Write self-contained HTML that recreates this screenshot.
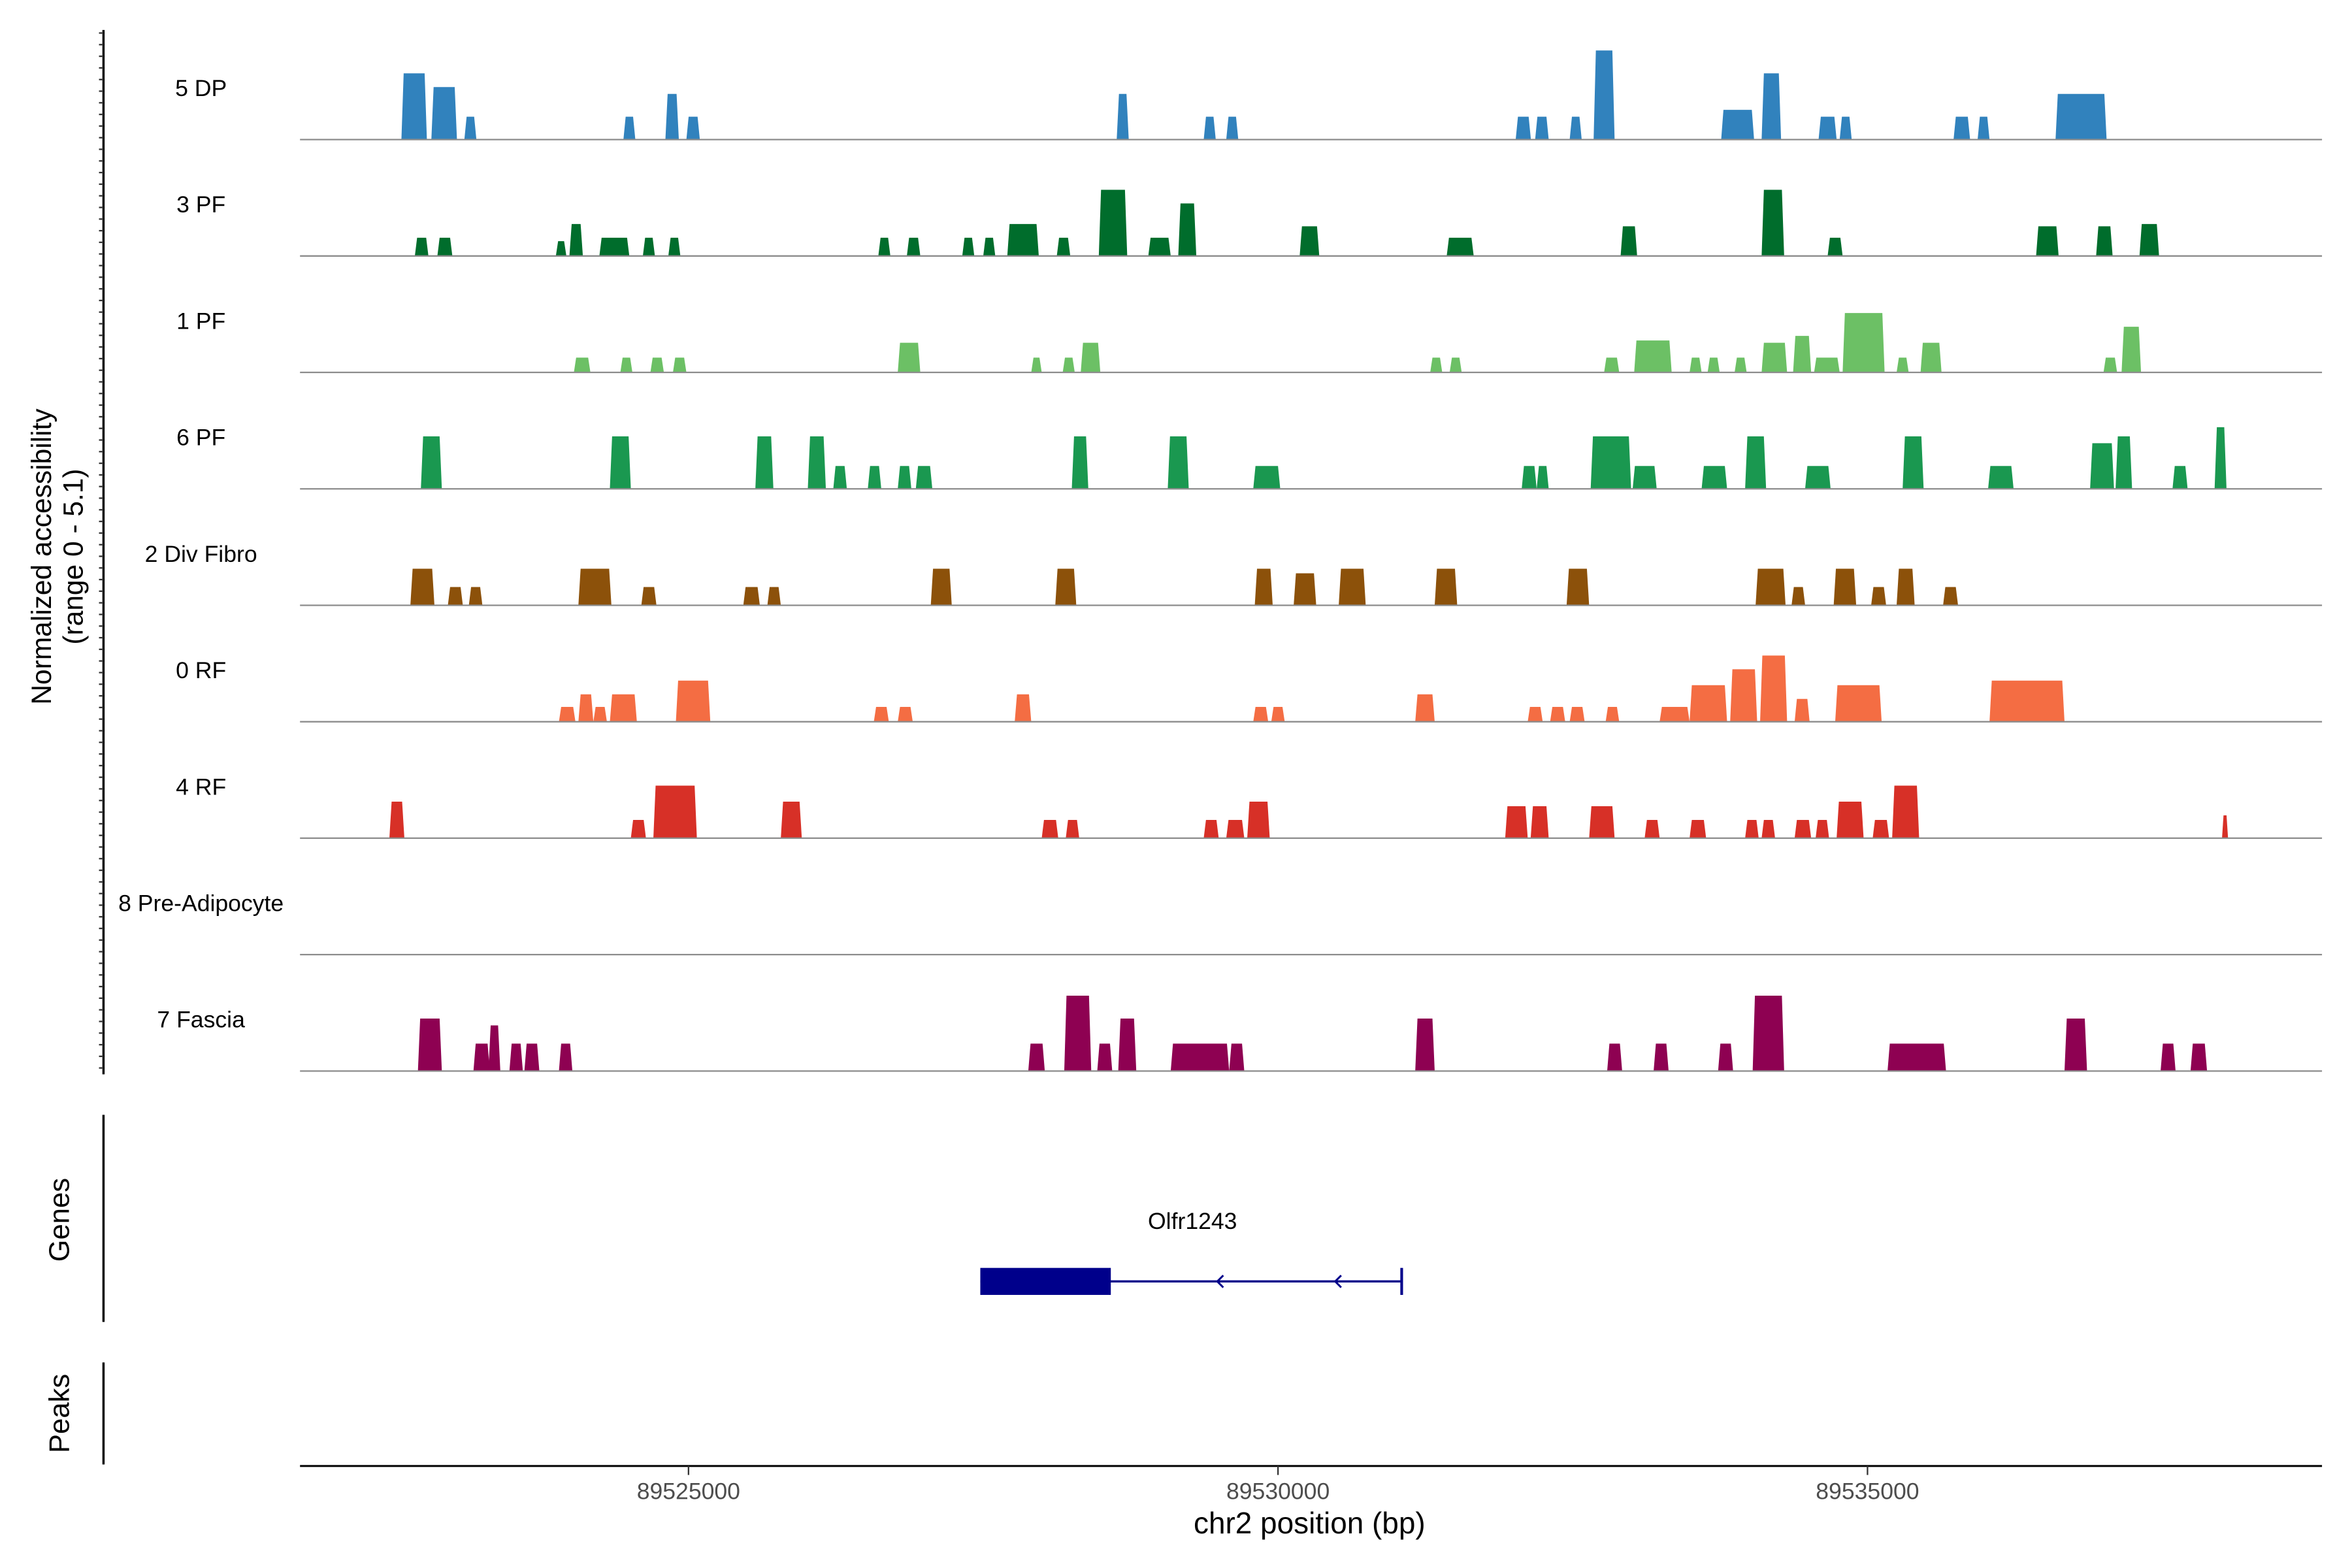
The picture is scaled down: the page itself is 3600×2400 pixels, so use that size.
<!DOCTYPE html>
<html><head><meta charset="utf-8"><style>
html,body{margin:0;padding:0;background:#fff;}
svg{display:block;font-family:"Liberation Sans",Arial,sans-serif;}
</style></head><body>
<svg id="chart" width="3600" height="2400" viewBox="0 0 1568 1045" preserveAspectRatio="none" xmlns="http://www.w3.org/2000/svg">
<rect x="0" y="0" width="1568" height="1045" fill="#fff"/>
<g id="tracks"></g>
<g id="yaxis"></g>
<text transform="translate(34,371) rotate(-90)" text-anchor="middle" font-size="18.5">Normalized accessibility</text>
<text transform="translate(55,371) rotate(-90)" text-anchor="middle" font-size="18.5">(range 0 - 5.1)</text>
<line x1="69" y1="743" x2="69" y2="881" stroke="#000" stroke-width="1.5"/>
<text transform="translate(46,813) rotate(-90)" text-anchor="middle" font-size="19">Genes</text>
<g id="gene"></g>
<line x1="69" y1="908" x2="69" y2="976" stroke="#000" stroke-width="1.5"/>
<text transform="translate(46,942) rotate(-90)" text-anchor="middle" font-size="19">Peaks</text>
<line x1="200" y1="977" x2="1548" y2="977" stroke="#000" stroke-width="1.3"/>
<g id="xaxis"></g>
<text x="873" y="1022" text-anchor="middle" font-size="20">chr2 position (bp)</text>
</svg>
<script>
const trackNames = ["5 DP","3 PF","1 PF","6 PF","2 Div Fibro","0 RF","4 RF","8 Pre-Adipocyte","7 Fascia"];
const trackColors = ["#3182bd","#006d2c","#6cc065","#1a9850","#8c510a","#f46d43","#d73027","#a50f15","#8e0152"];
const xTicks = [89525000,89530000,89535000];
const yMax = 5.1;
const peaksDP5 = [[89522565,89522781,2.9],[89522819,89523036,2.3],[89523099,89523201,1.0],[89524448,89524549,1.0],[89524804,89524918,2.0],[89524982,89525096,1.0],[89528632,89528734,2.0],[89529370,89529472,1.0],[89529561,89529663,1.0],[89532016,89532145,1.0],[89532181,89532296,1.0],[89532474,89532576,1.0],[89532677,89532855,3.9],[89533759,89534038,1.3],[89534102,89534267,2.9],[89534585,89534738,1.0],[89534764,89534866,1.0],[89535730,89535870,1.0],[89535934,89536035,1.0],[89536595,89537028,2.0]];
const peaksPF3 = [[89522679,89522794,0.8],[89522870,89522997,0.8],[89523875,89523964,0.65],[89523990,89524104,1.4],[89524244,89524498,0.8],[89524613,89524715,0.8],[89524829,89524931,0.8],[89526610,89526712,0.8],[89526852,89526966,0.8],[89527322,89527424,0.8],[89527500,89527602,0.8],[89527704,89527971,1.4],[89528124,89528238,0.8],[89528480,89528721,2.9],[89528900,89529090,0.8],[89529154,89529307,2.3],[89530184,89530350,1.3],[89531431,89531660,0.8],[89532906,89533046,1.3],[89534102,89534293,2.9],[89534662,89534789,0.8],[89536430,89536621,1.3],[89536939,89537079,1.3],[89537307,89537473,1.4]];
const peaksPF1 = [[89524028,89524168,0.65],[89524422,89524524,0.65],[89524677,89524791,0.65],[89524868,89524982,0.65],[89526775,89526966,1.3],[89527907,89527996,0.65],[89528174,89528276,0.65],[89528327,89528493,1.3],[89531291,89531393,0.65],[89531456,89531558,0.65],[89532766,89532894,0.65],[89533021,89533339,1.4],[89533491,89533593,0.65],[89533644,89533746,0.65],[89533873,89533975,0.65],[89534102,89534318,1.3],[89534369,89534522,1.6],[89534547,89534764,0.65],[89534789,89535145,2.6],[89535247,89535349,0.65],[89535450,89535628,1.3],[89537002,89537117,0.65],[89537155,89537320,2.0]];
const peaksPF6 = [[89522730,89522908,2.3],[89524333,89524511,2.3],[89525567,89525720,2.3],[89526012,89526165,2.3],[89526228,89526343,1.0],[89526521,89526635,1.0],[89526775,89526890,1.0],[89526928,89527068,1.0],[89528251,89528391,2.3],[89529065,89529243,2.3],[89529790,89530019,1.0],[89532067,89532194,1.0],[89532194,89532296,1.0],[89532652,89532995,2.3],[89533008,89533212,1.0],[89533593,89533809,1.0],[89533962,89534140,2.3],[89534471,89534687,1.0],[89535298,89535476,2.3],[89536023,89536239,1.0],[89536888,89537091,2.0],[89537104,89537244,2.3],[89537587,89537715,1.0],[89537944,89538045,2.7]];
const peaksDiv2 = [[89522641,89522845,1.6],[89522959,89523086,0.8],[89523137,89523252,0.8],[89524066,89524346,1.6],[89524600,89524728,0.8],[89525465,89525605,0.8],[89525669,89525783,0.8],[89527055,89527233,1.6],[89528111,89528289,1.6],[89529803,89529955,1.6],[89530133,89530324,1.4],[89530515,89530744,1.6],[89531329,89531520,1.6],[89532448,89532639,1.6],[89534051,89534305,1.6],[89534356,89534471,0.8],[89534713,89534904,1.6],[89535031,89535158,0.8],[89535247,89535400,1.6],[89535641,89535768,0.8]];
const peaksRF0 = [[89523901,89524041,0.65],[89524066,89524193,1.2],[89524193,89524308,0.65],[89524333,89524562,1.2],[89524893,89525185,1.8],[89526572,89526699,0.65],[89526775,89526902,0.65],[89527767,89527907,1.2],[89529790,89529917,0.65],[89529943,89530057,0.65],[89531164,89531329,1.2],[89532118,89532245,0.65],[89532308,89532436,0.65],[89532474,89532601,0.65],[89532779,89532894,0.65],[89533237,89533491,0.65],[89533491,89533809,1.6],[89533835,89534064,2.3],[89534089,89534318,2.9],[89534382,89534509,1.0],[89534726,89535120,1.6],[89536035,89536671,1.8]];
const peaksRF4 = [[89522463,89522590,1.6],[89524511,89524639,0.8],[89524702,89525071,2.3],[89525783,89525961,1.6],[89527996,89528136,0.8],[89528200,89528314,0.8],[89529370,89529497,0.8],[89529561,89529714,0.8],[89529739,89529930,1.6],[89531927,89532118,1.4],[89532143,89532296,1.4],[89532639,89532855,1.4],[89533110,89533237,0.8],[89533491,89533631,0.8],[89533962,89534077,0.8],[89534102,89534216,0.8],[89534382,89534522,0.8],[89534560,89534674,0.8],[89534738,89534967,1.6],[89535044,89535183,0.8],[89535209,89535438,2.3],[89538007,89538058,1.0]];
const peaksPre8 = [];
const peaksFas7 = [[89522705,89522908,2.3],[89523176,89523315,1.2],[89523303,89523404,2.0],[89523481,89523595,1.2],[89523608,89523735,1.2],[89523901,89524015,1.2],[89527882,89528022,1.2],[89528187,89528416,3.3],[89528467,89528594,1.2],[89528645,89528798,2.3],[89529090,89529586,1.2],[89529586,89529714,1.2],[89531164,89531329,2.3],[89532792,89532919,1.2],[89533186,89533313,1.2],[89533733,89533860,1.2],[89534026,89534293,3.3],[89535170,89535666,1.2],[89536671,89536862,2.3],[89537486,89537613,1.2],[89537740,89537880,1.2]];
const geneName = "Olfr1243";
const geneExon = [89527475,89528582];
const geneSpan = [89527475,89531049];
const geneArrows = [89529485,89530485];

const allPeaks = [peaksDP5,peaksPF3,peaksPF1,peaksPF6,peaksDiv2,peaksRF0,peaksRF4,peaksPre8,peaksFas7];
const NS = "http://www.w3.org/2000/svg";
function xScale(bp){ return 459 + (bp - 89525000) * (1245 - 459) / 10000; }
const trackH = 77.6, firstBase = 93;
function baseY(i){ return firstBase + i * trackH; }
function yScale(v, i){ return baseY(i) - v / yMax * trackH; }
function mk(tag, parent){ const e = document.createElementNS(NS, tag); parent.appendChild(e); return e; }

const tracks = document.getElementById('tracks');
trackNames.forEach((name, i) => {
  const g = mk('g', tracks);
  
  
  const lab = mk('text', g);
  
  
  lab.setAttribute('x', 134); lab.setAttribute('y', baseY(i) - 29);
  lab.setAttribute('text-anchor', 'middle'); lab.setAttribute('font-size', '15.5');
  lab.textContent = name;
  allPeaks[i].forEach(p => {
    const x0 = xScale(p[0]), x1 = xScale(p[1]), yb = baseY(i), yt = yScale(p[2], i);
    const poly = mk('polygon', g);
    
    
    const s = Math.min(1.5, (x1 - x0) / 4);
    poly.setAttribute('points', `${x0},${yb} ${x0 + s},${yt} ${x1 - s},${yt} ${x1},${yb}`);
    poly.setAttribute('fill', trackColors[i]);
  });
  const bl = mk('line', g);
  
  
  bl.setAttribute('x1', 200); bl.setAttribute('x2', 1548);
  bl.setAttribute('y1', baseY(i)); bl.setAttribute('y2', baseY(i));
  bl.setAttribute('stroke', '#8c8c8c'); bl.setAttribute('stroke-width', '1');
});

const yaxis = document.getElementById('yaxis');
const ax = mk('line', yaxis);


ax.setAttribute('x1', 69); ax.setAttribute('x2', 69); ax.setAttribute('y1', 20); ax.setAttribute('y2', 716);
ax.setAttribute('stroke', '#000'); ax.setAttribute('stroke-width', '1.5');
for (let y = 22; y <= 716; y += 7.75) {
  const t = mk('line', yaxis);
  
  
  t.setAttribute('x1', 66); t.setAttribute('x2', 69); t.setAttribute('y1', y); t.setAttribute('y2', y);
  t.setAttribute('stroke', '#333'); t.setAttribute('stroke-width', '1');
}

const xaxis = document.getElementById('xaxis');
xTicks.forEach(v => {
  const t = mk('line', xaxis);
  
  
  t.setAttribute('x1', xScale(v)); t.setAttribute('x2', xScale(v)); t.setAttribute('y1', 977); t.setAttribute('y2', 983);
  t.setAttribute('stroke', '#333');
  const l = mk('text', xaxis);
  
  
  l.setAttribute('x', xScale(v)); l.setAttribute('y', 999);
  l.setAttribute('text-anchor', 'middle'); l.setAttribute('font-size', '15.5'); l.setAttribute('fill', '#4d4d4d');
  l.textContent = v;
});

const gene = document.getElementById('gene');
const gl = mk('line', gene);


gl.setAttribute('x1', xScale(geneSpan[0])); gl.setAttribute('x2', xScale(geneSpan[1]));
gl.setAttribute('y1', 854); gl.setAttribute('y2', 854); gl.setAttribute('stroke', '#00008b'); gl.setAttribute('stroke-width', '1.5');
const ge = mk('rect', gene);


ge.setAttribute('x', xScale(geneExon[0])); ge.setAttribute('width', xScale(geneExon[1]) - xScale(geneExon[0]));
ge.setAttribute('y', 845); ge.setAttribute('height', 18); ge.setAttribute('fill', '#00008b');
const gt = mk('line', gene);


gt.setAttribute('x1', xScale(geneSpan[1])); gt.setAttribute('x2', xScale(geneSpan[1]));
gt.setAttribute('y1', 845); gt.setAttribute('y2', 863); gt.setAttribute('stroke', '#00008b'); gt.setAttribute('stroke-width', '1.8');
geneArrows.forEach(v => {
  const a = mk('polyline', gene);
  
  
  const x = xScale(v);
  a.setAttribute('points', `${x + 4},${850} ${x},${854} ${x + 4},${858}`);
  a.setAttribute('fill', 'none'); a.setAttribute('stroke', '#00008b'); a.setAttribute('stroke-width', '1.3');
});
const gn = mk('text', gene);


gn.setAttribute('x', 795);
gn.setAttribute('y', 819); gn.setAttribute('text-anchor', 'middle'); gn.setAttribute('font-size', '15.5');
gn.textContent = geneName;
</script>
</body></html>
